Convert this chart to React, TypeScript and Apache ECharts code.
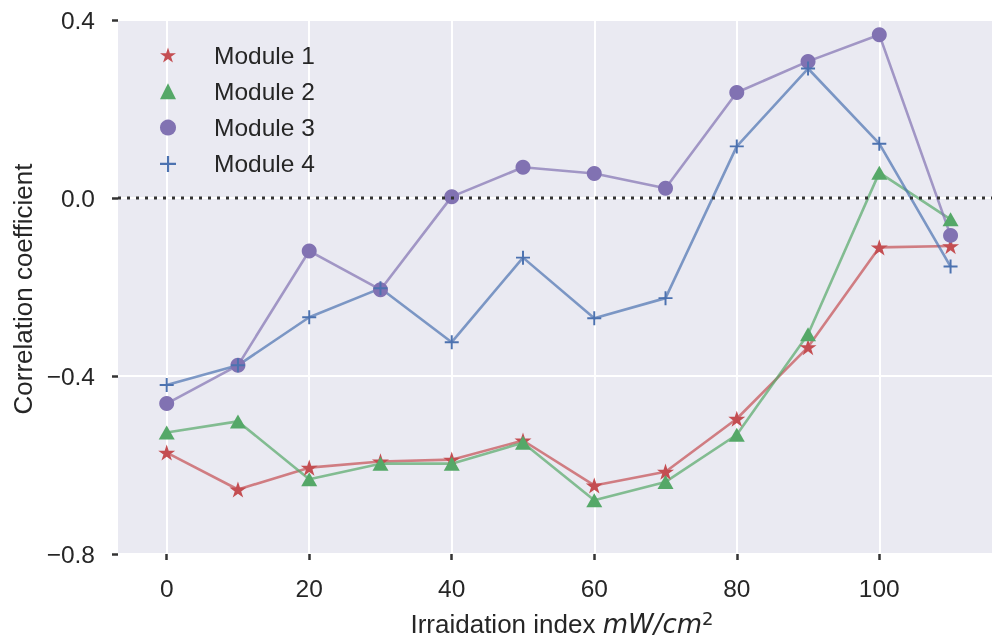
import React, { useEffect, useRef } from "react";
import * as echarts from "echarts";

const irradiation = [0, 10, 20, 30, 40, 50, 60, 70, 80, 90, 100, 110];
const module1 = [-0.572, -0.655, -0.606, -0.592, -0.588, -0.545, -0.646, -0.615, -0.496, -0.335, -0.111, -0.108];
const module2 = [-0.527, -0.502, -0.632, -0.597, -0.597, -0.55, -0.679, -0.638, -0.532, -0.306, 0.057, -0.048];
const module3 = [-0.462, -0.376, -0.119, -0.206, 0.003, 0.069, 0.055, 0.022, 0.237, 0.307, 0.367, -0.084];
const module4 = [-0.42, -0.376, -0.268, -0.203, -0.324, -0.134, -0.27, -0.225, 0.116, 0.291, 0.122, -0.154];
const seriesNames = ["Module 1", "Module 2", "Module 3", "Module 4"];
const yTicks = [-0.8, -0.4, 0.0, 0.4];
const xTickMax = 100;

const STAR =
  "path://M50 0 L61.23 34.55 L97.55 34.55 L68.17 55.9 L79.39 90.45 L50 69.1 L20.61 90.45 L31.83 55.9 L2.45 34.55 L38.77 34.55 Z";
const PLUS = "path://M43 0 H57 V43 H100 V57 H57 V100 H43 V57 H0 V43 H43 Z";

const colors = ["#C44E52", "#55A868", "#8172B2", "#4C72B0"];
const symbols = [STAR, "triangle", "circle", PLUS];
const symbolSizes: any[] = [17, [16, 14], 15, 14];

// layout
const PL = 118;
const PR = 992;
const PT = 20;
const PB = 554;
const X0 = 166.7; // pixel of x=0
const PX_PER_UNIT = 7.126;
const xMinBg = -(X0 - PL) / PX_PER_UNIT;
const xMaxBg = xMinBg + (PR - PL) / PX_PER_UNIT;

const fmtY = (v: number) => {
  if (Math.abs(v) < 1e-9) return "0.0";
  return v.toFixed(1).replace("-", "\u2212");
};

export default function App() {
  const ref = useRef<HTMLDivElement>(null);
  useEffect(() => {
    const chart = echarts.init(ref.current!, null, { renderer: "svg" });
    const allData = [module1, module2, module3, module4];
    const dataSeries = allData.map((vals, i) => ({
      name: seriesNames[i],
      type: "line",
      xAxisIndex: 0,
      yAxisIndex: 0,
      data: irradiation.map((x, j) => [x, vals[j]]),
      symbol: symbols[i],
      symbolSize: symbolSizes[i],
      symbolKeepAspect: true,
      showAllSymbol: true,
      z: 3,
      lineStyle: { color: colors[i], width: 2.6, opacity: 0.7 },
      itemStyle: { color: colors[i], opacity: 1 },
      emphasis: { disabled: true },
    }));
    chart.setOption({
      animation: false,
      textStyle: { fontFamily: "Liberation Sans" },
      grid: [
        {
          left: PL,
          top: PT,
          width: PR - PL,
          height: PB - PT,
          show: true,
          backgroundColor: "#EAEAF2",
          borderWidth: 0,
        },
        {
          left: X0,
          top: PT,
          width: xTickMax * PX_PER_UNIT,
          height: PB - PT,
          show: false,
        },
      ],
      xAxis: [
        {
          type: "value",
          gridIndex: 0,
          min: xMinBg,
          max: xMaxBg,
          axisLine: { show: false, onZero: false },
          axisTick: { show: false },
          axisLabel: { show: false },
          splitLine: { show: false },
        },
        {
          type: "value",
          gridIndex: 1,
          min: 0,
          max: xTickMax,
          interval: 20,
          position: "bottom",
          axisLine: { show: false, onZero: false },
          axisTick: { show: true, length: 6, lineStyle: { color: "#333", width: 2.5 } },
          axisLabel: {
            margin: 22,
            fontSize: 24.5,
            color: "#262626",
            fontFamily: "Liberation Sans",
          },
          splitLine: { show: true, lineStyle: { color: "#ffffff", width: 2 } },
        },
      ],
      yAxis: [
        {
          type: "value",
          gridIndex: 0,
          min: yTicks[0],
          max: yTicks[yTicks.length - 1],
          interval: 0.4,
          position: "left",
          axisLine: { show: false, onZero: false },
          axisTick: { show: true, length: 6, lineStyle: { color: "#333", width: 2.5 } },
          axisLabel: {
            margin: 23,
            fontSize: 24.5,
            color: "#262626",
            fontFamily: "Liberation Sans",
            formatter: fmtY,
          },
          splitLine: { show: true, lineStyle: { color: "#ffffff", width: 2 } },
        },
        {
          type: "value",
          gridIndex: 1,
          min: yTicks[0],
          max: yTicks[yTicks.length - 1],
          axisLine: { show: false, onZero: false },
          axisTick: { show: false },
          axisLabel: { show: false },
          splitLine: { show: false },
        },
      ],
      legend: {
        left: 168 - 8,
        top: 41,
        orient: "vertical",
        padding: 0,
        itemWidth: 16,
        itemHeight: 16,
        itemGap: 8.3,
        selectedMode: false,
        textStyle: {
          fontSize: 24.5,
          lineHeight: 24,
          color: "#262626",
          fontFamily: "Liberation Sans",
          padding: [0, 0, 4, 33],
        },
        data: seriesNames.map((n, i) => ({
          name: n,
          icon: symbols[i],
          itemStyle: { color: colors[i] },
        })),
      },
      series: [
        ...dataSeries,
        {
          name: "zero",
          type: "line",
          xAxisIndex: 0,
          yAxisIndex: 0,
          data: [
            [xMinBg, 0],
            [xMaxBg, 0],
          ],
          symbol: "none",
          silent: true,
          z: 5,
          lineStyle: { color: "#333333", width: 2.8, type: [3, 6] },
        },
      ],
      graphic: [
        {
          type: "text",
          x: 22.5,
          y: 289,
          rotation: Math.PI / 2,
          style: {
            text: "Correlation coefficient",
            fontSize: 26,
            fontFamily: "Liberation Sans",
            fill: "#262626",
            textAlign: "center",
            textVerticalAlign: "middle",
          },
        },
        {
          type: "text",
          x: 562,
          y: 624,
          style: {
            text: "{a|Irraidation index }{b|mW/cm}{c|2}",
            fill: "#262626",
            textAlign: "center",
            textVerticalAlign: "middle",
            rich: {
              a: { fontSize: 26, fontFamily: "Liberation Sans", fill: "#262626", lineHeight: 30 },
              b: { fontSize: 26, fontFamily: "DejaVu Sans", fontStyle: "italic", fill: "#262626", lineHeight: 30 },
              c: { fontSize: 18, fontFamily: "DejaVu Sans", fill: "#262626", verticalAlign: "top", lineHeight: 30, padding: [0, 0, 10, 0] },
            },
          },
        },
      ],
    });
    return () => chart.dispose();
  }, []);
  return (
    <div
      ref={ref}
      style={{ position: "fixed", left: 0, top: 0, width: 992, height: 641 }}
    />
  );
}
